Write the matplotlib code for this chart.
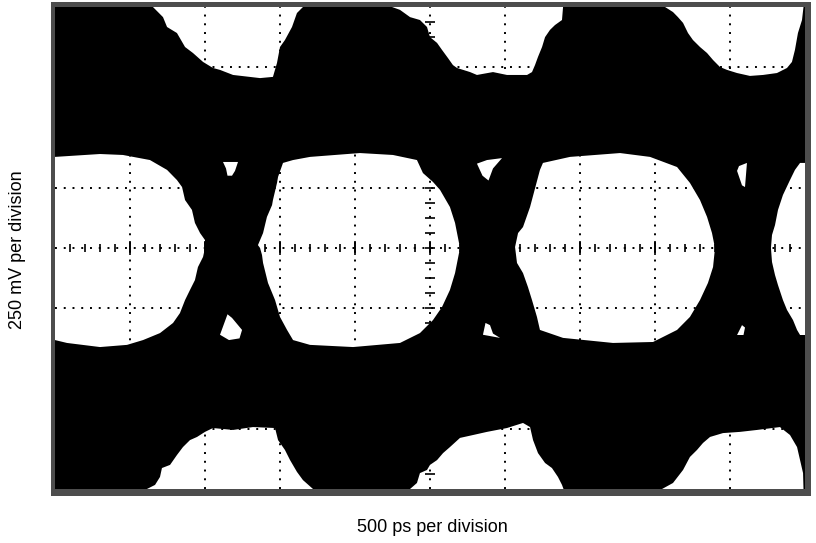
import matplotlib
matplotlib.use("Agg")
import matplotlib.pyplot as plt
import numpy as np
from matplotlib.patches import Rectangle

# time in ps, voltage in mV (500 ps/div, 250 mV/div)
t_min, t_max = 0, 5000
v_min, v_max = -1000, 1000

# white areas above the upper rail
top1_t = [653, 720, 747, 813, 867, 920, 987, 1053, 1100, 1187, 1367, 1453, 1480, 1500, 1533, 1580, 1613, 1653]
top1_v = [1000, 958, 917, 892, 834, 809, 772, 747, 739, 718, 705, 710, 768, 834, 863, 917, 975, 1000]
top2_t = [2247, 2300, 2367, 2433, 2480, 2500, 2547, 2580, 2620, 2653, 2680, 2767, 2813, 2920, 3013, 3147,
          3180, 3200, 3220, 3247, 3267, 3300, 3333, 3380, 3387]
top2_v = [1000, 988, 958, 946, 917, 875, 851, 822, 788, 759, 747, 730, 718, 730, 718, 718,
          730, 759, 793, 834, 875, 905, 925, 946, 1000]
top3_t = [4067, 4120, 4153, 4187, 4220, 4253, 4300, 4347, 4387, 4433, 4480, 4547, 4633, 4720, 4813,
          4880, 4913, 4933, 4953, 4980, 4990]
top3_v = [1000, 979, 958, 934, 892, 863, 834, 809, 780, 751, 739, 726, 714, 718, 726,
          747, 772, 822, 892, 946, 1000]

# eye openings
eye1_t = [0, 300, 453, 633, 747, 813, 847, 867, 913, 933, 967, 1000, 1000, 987, 953, 933, 900, 867,
          833, 787, 700, 587, 480, 300, 80, 0]
eye1_v = [378, 390, 386, 365, 324, 282, 253, 199, 158, 104, 62, 33, 0, -37, -79, -133, -174, -216,
          -270, -311, -353, -382, -402, -411, -394, -382]
eye2_t = [1587, 1520, 1487, 1480, 1453, 1447, 1413, 1387, 1353, 1367, 1380, 1387, 1420, 1467, 1500,
          1547, 1587, 1700, 1987, 2300, 2433, 2520, 2580, 2633, 2667, 2700, 2667, 2633, 2567, 2520,
          2453, 2413, 2253, 2033, 1700]
eye2_v = [365, 353, 295, 270, 199, 178, 129, 62, 12, 0, -29, -62, -145, -216, -286,
          -340, -382, -402, -411, -394, -353, -299, -245, -174, -104, 0, 104, 170, 241, 274,
          311, 365, 386, 394, 378]
eye3_t = [3253, 3233, 3167, 3120, 3087, 3067, 3080, 3120, 3153, 3180, 3213, 3233, 3387, 3720, 3987,
          4147, 4233, 4300, 4353, 4387, 4400, 4380, 4347, 4300, 4233, 4147, 3967, 3767, 3433]
eye3_v = [353, 324, 170, 87, 62, 4, -62, -104, -162, -216, -286, -340, -373, -394, -390,
          -340, -286, -216, -145, -79, 0, 62, 129, 199, 270, 336, 378, 394, 378]
eye4_t = [4967, 4933, 4900, 4853, 4820, 4800, 4780, 4773, 4780, 4800, 4820, 4853, 4880, 4920, 4947,
          4967, 5000, 5000]
eye4_v = [353, 324, 282, 220, 158, 95, 54, 0, -58, -112, -154, -216, -257, -299, -340,
          -361, -361, 353]

# white areas below the lower rail
bot1_t = [613, 667, 700, 713, 767, 813, 853, 900, 947, 1000, 1053, 1187, 1320, 1467, 1487, 1533,
          1567, 1613, 1653, 1720]
bot1_v = [-1000, -983, -950, -913, -900, -859, -826, -797, -784, -763, -747, -755, -743, -747, -797, -838,
          -880, -929, -963, -1000]
bot2_t = [2367, 2413, 2433, 2480, 2500, 2547, 2587, 2633, 2700, 2787, 2880, 3013, 3120, 3167, 3187,
          3220, 3267, 3313, 3353, 3380, 3390]
bot2_v = [-1000, -975, -934, -921, -900, -880, -851, -826, -788, -776, -763, -747, -726, -743, -797,
          -851, -892, -913, -950, -983, -1000]
bot3_t = [4047, 4120, 4187, 4233, 4280, 4320, 4367, 4453, 4567, 4680, 4833, 4900, 4947, 4967, 4987, 4990]
bot3_v = [-1000, -975, -921, -867, -838, -809, -784, -768, -763, -755, -743, -776, -826, -880, -934, -1000]

# small white islands near the crossings
specks = [
    ([1120, 1220, 1200, 1180, 1150, 1140], [357, 357, 320, 300, 300, 330]),
    ([1150, 1180, 1247, 1230, 1160, 1100], [-275, -290, -340, -375, -382, -360]),
    ([2813, 2880, 2980, 2920, 2890, 2850], [350, 365, 373, 330, 280, 300]),
    ([2870, 2900, 2920, 2967, 2853], [-311, -320, -355, -373, -360]),
    ([4560, 4613, 4600, 4580, 4547], [340, 353, 253, 260, 320]),
    ([4580, 4600, 4590, 4547], [-320, -330, -361, -361]),
]

W, H = 816, 543
fig = plt.figure(figsize=(W / 100, H / 100), dpi=100)

# gray frame around the screen
fig.patches.append(Rectangle((51 / W, 1 - 496 / H), 760 / W, 494 / H,
                             transform=fig.transFigure, facecolor='#4d4d4d',
                             edgecolor='none', zorder=-1))

ax = fig.add_axes([55 / W, 1 - 489 / H, 750 / W, 482 / H])
ax.set_zorder(1)
ax.set_facecolor('black')
ax.set_xlim(t_min, t_max)
ax.set_ylim(v_min, v_max)

regions = [(top1_t, top1_v), (top2_t, top2_v), (top3_t, top3_v),
           (eye1_t, eye1_v), (eye2_t, eye2_v), (eye3_t, eye3_v), (eye4_t, eye4_v),
           (bot1_t, bot1_v), (bot2_t, bot2_v), (bot3_t, bot3_v)] + specks
for rt, rv in regions:
    ax.fill(rt, rv, color='white', lw=0, zorder=1)

# graticule (black, so it only shows on the white areas)
ax.set_xticks(np.arange(500, 5000, 500))
ax.set_yticks(np.arange(-750, 1000, 250))
ax.tick_params(length=0, labelbottom=False, labelleft=False)
ax.set_axisbelow(False)
ax.grid(True, color='black', linestyle=(0, (1, 3.5)), linewidth=1.4)
for s in ax.spines.values():
    s.set_visible(False)

mk = dict(ls='none', color='black', zorder=3)
minor_t = np.arange(100, 5000, 100)
ax.plot(minor_t, np.zeros_like(minor_t), marker='|', ms=6, mew=1.2, **mk)
major_t = np.arange(500, 5000, 500)
ax.plot(major_t, np.zeros_like(major_t), marker='|', ms=10, mew=1.2, **mk)
minor_v = np.arange(-937.5, 1000, 62.5)
ax.plot(np.full_like(minor_v, 2500), minor_v, marker='_', ms=7, mew=1.2, **mk)

font = ['Liberation Sans', 'DejaVu Sans']
fig.text(432 / W, 1 - 527 / H, '500 ps per division', ha='center', va='center',
         fontsize=13, family=font)
fig.text(18 / W, 1 - 250 / H, '250 mV per division', ha='center', va='center',
         rotation=90, fontsize=13, family=font)

fig.savefig('out.png', dpi=100)
